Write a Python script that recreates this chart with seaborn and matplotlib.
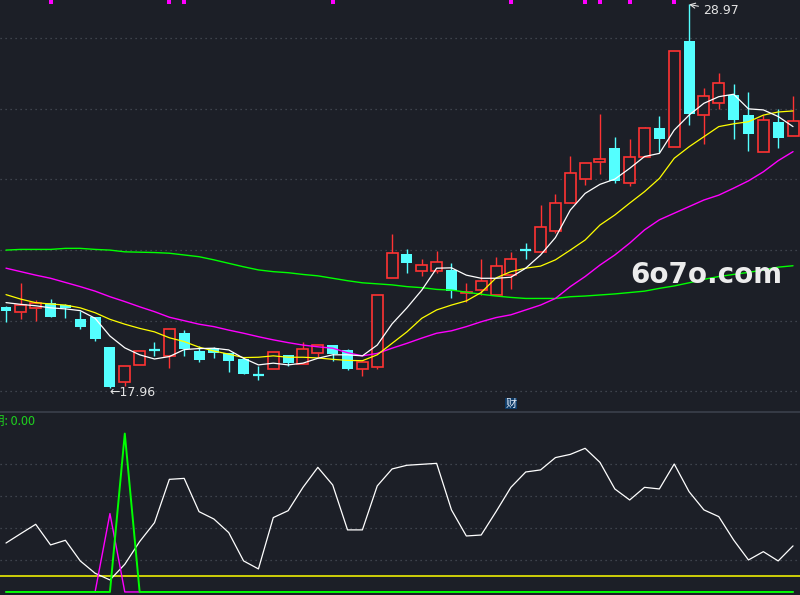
import matplotlib
matplotlib.use("Agg")
import matplotlib.pyplot as plt
from matplotlib.patches import Rectangle
import seaborn as sns
import pandas as pd

# --- daily candles (price) ---
opens = [20.27, 20.14, 20.24, 20.38, 20.32, 19.92, 19.98, 19.12, 18.11, 18.60,
         19.05, 18.87, 19.54, 19.02, 19.09, 18.95, 18.78, 18.33, 18.50, 18.89,
         18.65, 18.96, 19.17, 19.04, 18.48, 18.56, 21.10, 21.79, 21.30, 21.30,
         21.34, 20.67, 20.77, 20.63, 21.19, 21.90, 21.85, 22.47, 23.26, 23.95,
         24.43, 24.85, 23.85, 24.58, 25.42, 24.88, 27.92, 25.80, 26.15, 26.37,
         25.79, 24.74, 25.59, 25.20]
highs = [20.30, 20.97, 20.48, 20.50, 20.36, 20.17, 19.98, 19.12, 18.59, 19.00,
         19.27, 19.63, 19.61, 19.15, 19.13, 18.95, 18.78, 18.59, 18.97, 18.89,
         19.27, 19.17, 19.17, 19.07, 18.69, 20.61, 22.37, 21.94, 21.65, 21.88,
         21.53, 20.96, 21.65, 21.71, 21.86, 22.11, 23.21, 23.53, 24.62, 24.41,
         25.82, 25.17, 25.10, 25.46, 25.77, 27.63, 28.97, 26.57, 27.00, 26.68,
         26.45, 25.79, 25.97, 26.35]
lows = [19.85, 19.93, 19.87, 20.00, 19.95, 19.64, 19.31, 17.96, 18.00, 18.60,
        18.87, 18.53, 18.87, 18.70, 18.81, 18.41, 18.35, 18.18, 18.50, 18.59,
        18.65, 18.83, 18.72, 18.46, 18.30, 18.48, 21.10, 21.24, 21.17, 21.24,
        20.52, 20.43, 20.63, 20.63, 20.80, 21.65, 21.85, 22.39, 23.26, 23.79,
        24.09, 23.85, 23.76, 24.58, 24.74, 24.88, 25.51, 24.96, 25.96, 25.11,
        24.77, 24.74, 24.85, 25.20]
closes = [20.17, 20.33, 20.38, 20.00, 20.25, 19.71, 19.35, 17.98, 18.59, 19.00,
          19.04, 19.63, 19.08, 18.74, 18.96, 18.72, 18.35, 18.32, 18.97, 18.67,
          19.06, 19.17, 18.92, 18.50, 18.69, 20.61, 21.82, 21.55, 21.47, 21.56,
          20.74, 20.70, 21.01, 21.45, 21.65, 21.89, 22.57, 23.26, 24.12, 24.41,
          24.54, 23.90, 24.58, 25.41, 25.11, 27.63, 25.82, 26.33, 26.70, 25.65,
          25.25, 25.65, 25.14, 25.62]

# moving averages
ma5 = [20.40, 20.35, 20.31, 20.25, 20.22, 20.17, 19.95, 19.44, 19.10, 18.90,
       18.78, 18.85, 19.05, 19.08, 19.09, 19.04, 18.80, 18.61, 18.66, 18.61,
       18.66, 18.80, 18.90, 18.90, 18.87, 19.18, 19.79, 20.25, 20.76, 21.39,
       21.40, 21.19, 21.10, 21.10, 21.13, 21.39, 21.77, 22.27, 23.06, 23.54,
       23.80, 23.95, 24.26, 24.60, 24.69, 25.36, 25.79, 26.13, 26.32, 26.39,
       25.97, 25.94, 25.75, 25.46]
ma10 = [20.63, 20.50, 20.40, 20.36, 20.33, 20.25, 20.11, 19.92, 19.78, 19.66,
        19.56, 19.39, 19.28, 19.12, 19.01, 18.92, 18.82, 18.83, 18.87, 18.83,
        18.83, 18.81, 18.77, 18.74, 18.73, 18.90, 19.23, 19.56, 19.95, 20.19,
        20.33, 20.45, 20.69, 21.11, 21.29, 21.39, 21.45, 21.63, 21.91, 22.20,
        22.63, 22.92, 23.26, 23.59, 23.97, 24.55, 24.88, 25.17, 25.46, 25.54,
        25.60, 25.79, 25.88, 25.91]
ma30 = [21.39, 21.29, 21.19, 21.10, 20.98, 20.86, 20.73, 20.57, 20.43, 20.28,
        20.14, 19.98, 19.88, 19.78, 19.71, 19.61, 19.52, 19.42, 19.33, 19.25,
        19.18, 19.13, 19.09, 18.96, 18.87, 18.94, 19.09, 19.23, 19.38, 19.52,
        19.59, 19.71, 19.85, 19.97, 20.05, 20.19, 20.33, 20.52, 20.86, 21.15,
        21.48, 21.77, 22.11, 22.49, 22.78, 22.97, 23.16, 23.35, 23.49, 23.69,
        23.90, 24.16, 24.48, 24.74]
ma60 = [21.91, 21.93, 21.93, 21.93, 21.96, 21.96, 21.93, 21.91, 21.86, 21.85,
        21.84, 21.82, 21.77, 21.72, 21.63, 21.53, 21.43, 21.34, 21.29, 21.26,
        21.21, 21.17, 21.10, 21.03, 20.97, 20.94, 20.91, 20.86, 20.83, 20.78,
        20.76, 20.70, 20.64, 20.59, 20.55, 20.52, 20.52, 20.52, 20.57, 20.59,
        20.62, 20.65, 20.69, 20.73, 20.81, 20.88, 20.97, 21.07, 21.15, 21.21,
        21.27, 21.34, 21.42, 21.46]

signal_days = [3, 11, 12, 22, 34, 39, 40, 42, 45]
grid_levels = [28.00, 25.97, 23.94, 21.91, 19.88, 17.85]
fin_day = 34

# --- lower indicator panel ---
osc_line = [30.6, 36.5, 42.3, 29.4, 32.3, 19.4, 11.7, 7.5, 17.3, 31.5,
            43.3, 70.4, 71.0, 50.2, 45.6, 37.1, 19.4, 14.4, 46.5, 50.8,
            65.4, 77.9, 66.9, 38.8, 38.8, 66.3, 76.9, 79.2, 79.8, 80.4,
            51.3, 35.0, 35.6, 50.2, 65.4, 75.0, 76.3, 84.0, 86.0, 89.8,
            81.0, 64.4, 57.5, 65.4, 64.4, 80.0, 62.7, 51.3, 47.1, 32.5,
            20.0, 25.2, 19.4, 28.8]
osc_pink = [0, 0, 0, 0, 0, 0, 0, 49, 0, 0, 0, 0, 0, 0, 0, 0, 0, 0,
            0, 0, 0, 0, 0, 0, 0, 0, 0, 0, 0, 0, 0, 0, 0, 0, 0, 0,
            0, 0, 0, 0, 0, 0, 0, 0, 0, 0, 0, 0, 0, 0, 0, 0, 0, 0]
osc_green = [0, 0, 0, 0, 0, 0, 0, 0, 99, 0, 0, 0, 0, 0, 0, 0, 0, 0,
             0, 0, 0, 0, 0, 0, 0, 0, 0, 0, 0, 0, 0, 0, 0, 0, 0, 0,
             0, 0, 0, 0, 0, 0, 0, 0, 0, 0, 0, 0, 0, 0, 0, 0, 0, 0]
osc_level = 10
osc_grid = [20, 40, 60, 80]

BG = '#1c1f27'
UP = '#ff3333'
DOWN = '#54ffff'
GRID = '#4a4f5a'
TXT = '#e4e4e4'

sns.set_theme(style="dark", rc={'axes.facecolor': BG, 'figure.facecolor': BG})
plt.rcParams['font.family'] = ['DejaVu Sans', 'Noto Sans CJK SC']

df = pd.DataFrame({'day': range(len(opens)), 'open': opens, 'high': highs,
                   'low': lows, 'close': closes, 'ma5': ma5, 'ma10': ma10,
                   'ma30': ma30, 'ma60': ma60, 'osc': osc_line,
                   'pink': osc_pink, 'green': osc_green})

fig = plt.figure(figsize=(8, 5.95), dpi=100)
split = 183 / 595
ax = fig.add_axes([0, split, 1, 1 - split])
ax2 = fig.add_axes([0, 0, 1, split])
for a in (ax, ax2):
    a.set_facecolor(BG)
    a.set_xlim(-0.404, 53.47)
    a.set_xticks([])
    a.set_yticks([])
    for s in a.spines.values():
        s.set_visible(False)
ax.set_ylim(17.256, 29.099)
ax2.set_ylim(-1.9, 112.5)
ax2.spines['top'].set_visible(True)
ax2.spines['top'].set_color('#3b404c')
ax2.spines['top'].set_linewidth(1.2)

for lv in grid_levels:
    ax.axhline(lv, color=GRID, lw=0.9, ls=(0, (1, 3)), zorder=0)
for lv in osc_grid:
    ax2.axhline(lv, color=GRID, lw=0.9, ls=(0, (1, 3)), zorder=0)

# candles: hollow red for up days, filled cyan for down days
w = 0.74
for i, r in df.iterrows():
    o, h, l, c = r['open'], r['high'], r['low'], r['close']
    top, bot = max(o, c), min(o, c)
    if c > o:
        ax.vlines(i, top, h, color=UP, lw=1.0, zorder=2)
        ax.vlines(i, l, bot, color=UP, lw=1.0, zorder=2)
        ax.add_patch(Rectangle((i - w / 2, bot), w, top - bot, facecolor=BG,
                               edgecolor=UP, lw=1.2, zorder=3))
    else:
        ax.vlines(i, l, h, color=DOWN, lw=1.0, zorder=2)
        if top - bot < 0.02:
            ax.hlines(top, i - w / 2, i + w / 2, color=DOWN, lw=1.6, zorder=3)
        else:
            ax.bar(i, top - bot, bottom=bot, width=w, color=DOWN, linewidth=0, zorder=3)

sns.lineplot(data=df, x='day', y='ma60', color='#00ff00', lw=1.0, ax=ax, zorder=4)
sns.lineplot(data=df, x='day', y='ma30', color='#ff00ff', lw=1.0, ax=ax, zorder=4)
sns.lineplot(data=df, x='day', y='ma10', color='#ffff00', lw=0.9, ax=ax, zorder=4)
sns.lineplot(data=df, x='day', y='ma5', color='#ffffff', lw=0.9, ax=ax, zorder=5)

ax.scatter(signal_days, [29.04] * len(signal_days), marker='s', s=6,
           color='#ff00ff', linewidths=0, zorder=6)

hi_day = int(df['high'].idxmax())
lo_day = int(df['low'].idxmin())
ax.annotate(f"{df['high'].max():.2f}", xy=(hi_day, df['high'].max()),
            xytext=(14, -6), textcoords='offset pixels', color=TXT,
            fontsize=9, ha='left', va='center',
            arrowprops=dict(arrowstyle='->', color=TXT, lw=0.8,
                            shrinkA=1, shrinkB=0))
ax.annotate(f"\u2190{df['low'].min():.2f}", xy=(lo_day, df['low'].min()),
            xytext=(-1, -5), textcoords='offset pixels', color=TXT,
            fontsize=9, ha='left', va='center')

ax.text(fin_day, 0.02, '财', transform=ax.get_xaxis_transform(),
        family=['Noto Sans CJK SC'], fontsize=8, color='#dfe8f5',
        ha='center', va='center',
        bbox=dict(boxstyle='square,pad=0.05', facecolor='#0d3a66', edgecolor='none'))

fig.text(706 / 800, 1 - 275 / 595, '6o7o.com', fontsize=20, fontweight='bold',
         color='#ececec', ha='center', va='center')

# lower panel lines
sns.lineplot(data=df, x='day', y='osc', color='#ffffff', lw=0.9, ax=ax2, zorder=3)
ax2.axhline(osc_level, color='#ffff00', lw=1.1, zorder=2)
sns.lineplot(data=df, x='day', y='pink', color='#ff00ff', lw=1.0, ax=ax2, zorder=3)
sns.lineplot(data=df, x='day', y='green', color='#00ff00', lw=1.4, ax=ax2, zorder=4)
for a in (ax, ax2):
    a.set_xlabel('')
    a.set_ylabel('')

fig.text(-8 / 800, 1 - 421 / 595, '期: 0.00', fontsize=9, color='#1fd11f',
         family=['Noto Sans CJK SC', 'DejaVu Sans'], ha='left', va='center')

fig.savefig('out.png', dpi=100, facecolor=BG)
